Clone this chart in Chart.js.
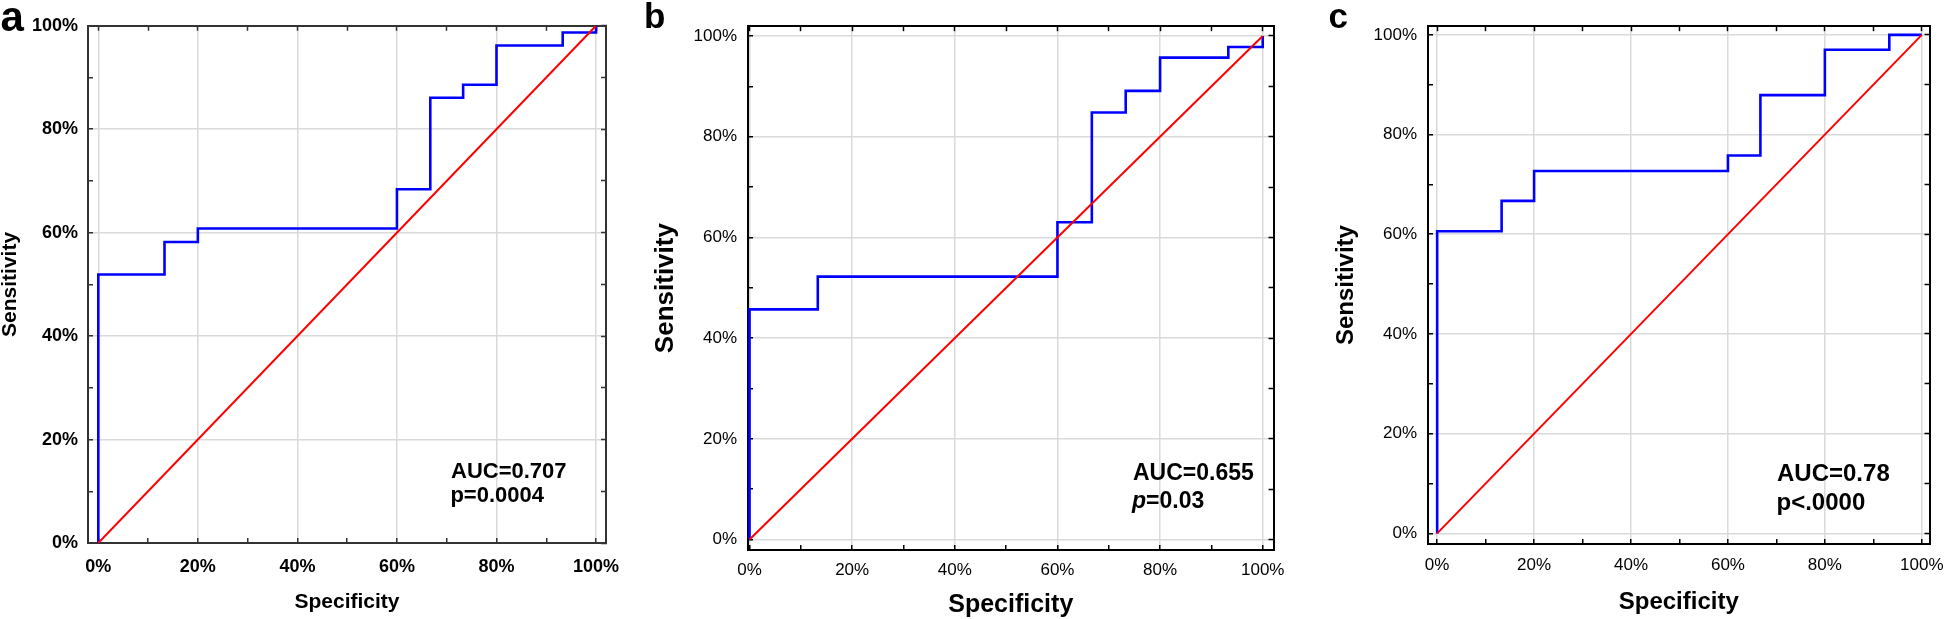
<!DOCTYPE html>
<html><head><meta charset="utf-8">
<script src="https://cdn.jsdelivr.net/npm/chart.js@4.4.1/dist/chart.umd.min.js"></script>
<style>
html,body{margin:0;padding:0;background:#fff;width:1960px;height:619px;overflow:hidden;}
.p{position:absolute;top:0;}
canvas{display:block;}
</style></head><body>
<div class="p" style="left:0px"><canvas id="ca" width="640" height="619"></canvas></div>
<div class="p" style="left:640px"><canvas id="cb" width="660" height="619"></canvas></div>
<div class="p" style="left:1300px"><canvas id="cc" width="660" height="619"></canvas></div>
<script>
// ---- data ----
const tickValues = [0, 10, 20, 30, 40, 50, 60, 70, 80, 90, 100];
const xTitle = 'Specificity';
const yTitle = 'Sensitivity';
const chanceX = [0, 100];
const chanceY = [0, 100];
// panel a
const specA = [0, 0, 13.3, 20.0, 60.0, 66.7, 73.3, 80.0, 93.3, 100];
const sensA = [0, 51.9, 58.2, 60.8, 68.4, 86.1, 88.6, 96.2, 98.7, 100];
// panel b
const specB = [0, 0, 13.3, 60.0, 66.7, 73.3, 80.0, 93.3, 100];
const sensB = [0, 45.7, 52.2, 63.0, 84.8, 89.1, 95.7, 97.8, 100];
// panel c
const specC = [0, 0, 13.3, 20.0, 60.0, 66.7, 80.0, 93.3, 100];
const sensC = [0, 60.6, 66.7, 72.7, 75.8, 87.9, 97.0, 100, 100];

const F = "'Liberation Sans', Arial, Helvetica, sans-serif";
Chart.defaults.devicePixelRatio = 1;

const textPlugin = {
  id: 'txt',
  afterDraw(chart, args, opts) {
    const ctx = chart.ctx;
    ctx.save();
    ctx.fillStyle = '#000';
    ctx.textAlign = 'left';
    ctx.textBaseline = 'alphabetic';
    for (const t of opts.items || []) {
      let x = t.x;
      for (const part of t.parts) {
        ctx.font = part.font;
        ctx.fillText(part.text, x, t.y);
        x += ctx.measureText(part.text).width;
      }
    }
    ctx.restore();
  }
};

function pts(xs, ys) { return xs.map((v, i) => ({x: v, y: ys[i]})); }
function setTicks(scale) { scale.ticks = tickValues.map(v => ({value: v})); }
function lbl(v) { return v % 20 === 0 ? v + '%' : ''; }

function makeChart(id, g, spec, sens, items) {
  const tickFont = {family: F, size: g.tickSize, weight: g.tickWeight, lineHeight: 1.2};
  const gridColor = c => (c.tick && c.tick.value % 20 === 0) ? '#dadada' : 'rgba(0,0,0,0)';
  const common = {type: 'linear', afterBuildTicks: setTicks};
  new Chart(document.getElementById(id), {
    type: 'line',
    data: {
      datasets: [
        {data: pts(spec, sens), stepped: 'before', borderColor: '#0000ff', borderWidth: 2.6,
         pointRadius: 0, fill: false, xAxisID: 'x', yAxisID: 'y', order: 2},
        {data: pts(chanceX, chanceY), borderColor: '#ff0000', borderWidth: 2,
         pointRadius: 0, fill: false, xAxisID: 'x', yAxisID: 'y', order: 1}
      ]
    },
    options: {
      responsive: false, animation: false, devicePixelRatio: 1,
      layout: {padding: {left: 0, top: g.top, right: g.padRight, bottom: 0}},
      plugins: {legend: {display: false}, tooltip: {enabled: false}, txt: {items}},
      scales: {
        x: Object.assign({}, common, {
          position: 'bottom', min: g.xmin, max: g.xmax,
          afterFit: s => { s.height = g.xh; },
          grid: {color: gridColor, lineWidth: 1.5, tickLength: -5, tickColor: g.frame, tickWidth: 1.5},
          border: {color: g.frame, width: 2},
          ticks: {autoSkip: false, maxRotation: 0, minRotation: 0, padding: g.xpad, color: '#000', font: tickFont, callback: lbl},
          title: {display: true, text: xTitle, color: '#000',
                  font: {family: F, size: g.xtSize, weight: 'bold', lineHeight: g.xtLH},
                  padding: {top: 0, bottom: g.xtPad}}
        }),
        y: Object.assign({}, common, {
          position: 'left', min: g.ymin, max: g.ymax,
          afterFit: s => { s.width = g.yw; },
          grid: {color: gridColor, lineWidth: 1.5, tickLength: -5, tickColor: g.frame, tickWidth: 1.5},
          border: {color: g.frame, width: 2},
          ticks: {autoSkip: false, padding: g.ypad, color: '#000', font: tickFont, callback: lbl},
          title: {display: true, text: yTitle, color: '#000',
                  font: {family: F, size: g.ytSize, weight: 'bold', lineHeight: g.ytLH},
                  padding: {top: g.ytPad, bottom: 0}}
        }),
        x2: Object.assign({}, common, {
          position: 'top', min: g.xmin, max: g.xmax,
          afterFit: s => { s.height = 0; },
          grid: {drawOnChartArea: false, tickLength: -5, tickColor: g.frame, tickWidth: 1.5},
          border: {color: g.frame, width: 2},
          ticks: {display: false}
        }),
        y2: Object.assign({}, common, {
          position: 'right', min: g.ymin, max: g.ymax,
          afterFit: s => { s.width = 0; },
          grid: {drawOnChartArea: false, tickLength: -5, tickColor: g.frame, tickWidth: 1.5},
          border: {color: g.frame, width: 2},
          ticks: {display: false}
        })
      }
    },
    plugins: [textPlugin]
  });
}

// panel a
makeChart('ca', {
  top: 23, padRight: 34, yw: 88, xh: 76,
  xmin: -2.07, xmax: 102.0, ymin: 0, ymax: 100,
  frame: '#333', tickSize: 18, tickWeight: 'bold', xpad: 18, ypad: 15,
  xtSize: 21, xtLH: 1.2, xtPad: 4.4, ytSize: 21, ytLH: 1.0, ytPad: 0
}, specA, sensA, [
  {x: 0.5, y: 30.7, parts: [{text: 'a', font: `bold 42px ${F}`}]},
  {x: 451, y: 477.5, parts: [{text: 'AUC=0.707', font: `bold 22px ${F}`}]},
  {x: 450.4, y: 502, parts: [{text: 'p=0.0004', font: `bold 22px ${F}`}]}
]);

// panel b
makeChart('cb', {
  top: 15, padRight: 19, yw: 108, xh: 69,
  xmin: -0.3, xmax: 102.11, ymin: -2.08, ymax: 101.94,
  frame: '#000', tickSize: 17, tickWeight: 'normal', xpad: 15, ypad: 16,
  xtSize: 25, xtLH: 1.14, xtPad: 0, ytSize: 26, ytLH: 1.2, ytPad: 10.4
}, specB, sensB, [
  {x: 4, y: 28.3, parts: [{text: 'b', font: `bold 35px ${F}`}]},
  {x: 493, y: 480, parts: [{text: 'AUC=0.655', font: `bold 23px ${F}`}]},
  {x: 492, y: 508, parts: [{text: 'p', font: `italic bold 23px ${F}`}, {text: '=0.03', font: `bold 23px ${F}`}]}
]);

// panel c
makeChart('cc', {
  top: 22, padRight: 12, yw: 128, xh: 75,
  xmin: -1.89, xmax: 101.6, ymin: -2.13, ymax: 101.73,
  frame: '#000', tickSize: 17, tickWeight: 'normal', xpad: 16, ypad: 16,
  xtSize: 24, xtLH: 1.2, xtPad: 1.8, ytSize: 24, ytLH: 1.2, ytPad: 31.9
}, specC, sensC, [
  {x: 28.6, y: 28.3, parts: [{text: 'c', font: `bold 35px ${F}`}]},
  {x: 477, y: 481, parts: [{text: 'AUC=0.78', font: `bold 24px ${F}`}]},
  {x: 476.5, y: 510, parts: [{text: 'p<.0000', font: `bold 24px ${F}`}]}
]);
</script>
</body></html>
